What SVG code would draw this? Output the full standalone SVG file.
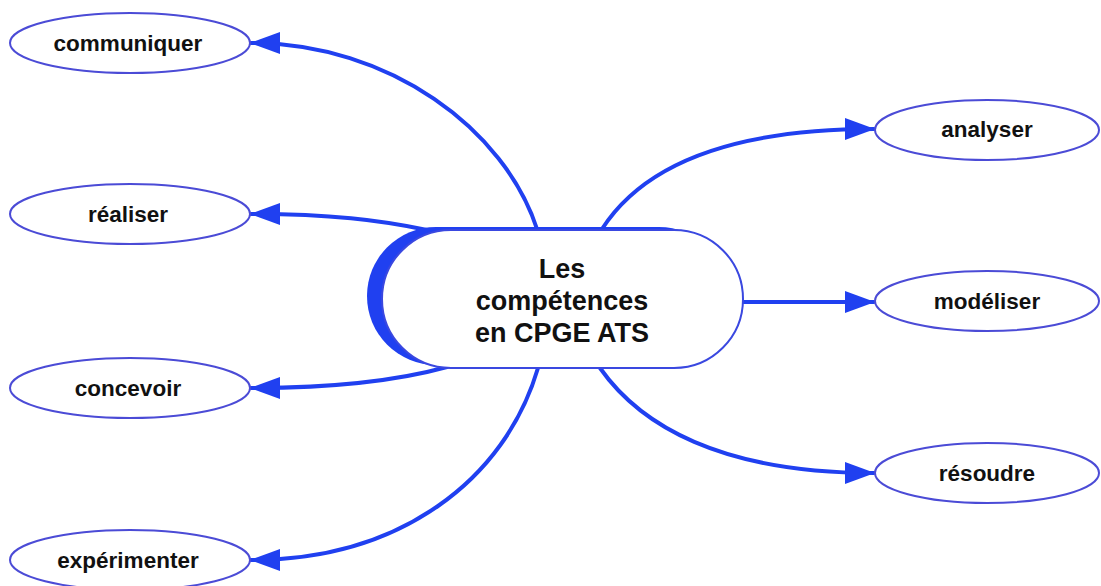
<svg xmlns="http://www.w3.org/2000/svg" width="1101" height="586" viewBox="0 0 1101 586">
<style>
.bg{fill:#ffffff}
.leaf{fill:#ffffff;stroke:#4b4bd6;stroke-width:2}
.lbl{font-family:"Liberation Sans",Arial,Helvetica,sans-serif;font-weight:bold;font-size:22.5px;fill:#111111;text-anchor:middle}
.ctr{font-family:"Liberation Sans",Arial,Helvetica,sans-serif;font-weight:bold;font-size:27px;fill:#111111;text-anchor:middle}
.edge{fill:none;stroke:#2040f0;stroke-width:4;stroke-linecap:round}
</style>
<defs>
<marker id="arr" markerUnits="userSpaceOnUse" viewBox="0 0 30 22" refX="29" refY="11" markerWidth="30" markerHeight="22" orient="auto">
<path d="M0,0 L30,11 L0,22 z" fill="#2040f0"/>
</marker>
</defs>
<rect class="bg" x="0" y="0" width="1101" height="586"/>
<g id="connectors">
<path class="edge" marker-end="url(#arr)" d="M537,229 C505,130 390,43 251,43"/>
<path class="edge" marker-end="url(#arr)" d="M427,230 C380,220 330,214 251,214"/>
<path class="edge" marker-end="url(#arr)" d="M447,367 C400,380 340,388 251,388"/>
<path class="edge" marker-end="url(#arr)" d="M538,368 C505,480 400,560 251,560"/>
<path class="edge" marker-end="url(#arr)" d="M602,229 C640,170 720,129 874,129"/>
<path class="edge" marker-end="url(#arr)" d="M743,302 L874,302"/>
<path class="edge" marker-end="url(#arr)" d="M600,368 C640,425 720,473 874,473"/>
</g>
<g id="center">
<rect x="367" y="227" width="361" height="138" rx="69" ry="69" fill="#2040f0"/>
<rect x="382" y="230" width="361" height="138" rx="69" ry="69" fill="#ffffff" stroke="#3a48e0" stroke-width="2"/>
<text class="ctr" x="562" y="278">Les</text>
<text class="ctr" x="562" y="310">compétences</text>
<text class="ctr" x="562" y="342">en CPGE ATS</text>
</g>
<g id="communiquer">
<ellipse class="leaf" cx="130" cy="43" rx="120" ry="30"/>
<text class="lbl" x="128" y="51">communiquer</text>
</g>
<g id="realiser">
<ellipse class="leaf" cx="130" cy="214" rx="120" ry="30"/>
<text class="lbl" x="128" y="222">réaliser</text>
</g>
<g id="concevoir">
<ellipse class="leaf" cx="130" cy="388" rx="120" ry="30"/>
<text class="lbl" x="128" y="396">concevoir</text>
</g>
<g id="experimenter">
<ellipse class="leaf" cx="130" cy="560" rx="120" ry="30"/>
<text class="lbl" x="128" y="568">expérimenter</text>
</g>
<g id="analyser">
<ellipse class="leaf" cx="987" cy="130" rx="112" ry="30"/>
<text class="lbl" x="987" y="137">analyser</text>
</g>
<g id="modeliser">
<ellipse class="leaf" cx="987" cy="301" rx="112" ry="30"/>
<text class="lbl" x="987" y="309">modéliser</text>
</g>
<g id="resoudre">
<ellipse class="leaf" cx="987" cy="473" rx="112" ry="30"/>
<text class="lbl" x="987" y="481">résoudre</text>
</g>
</svg>
